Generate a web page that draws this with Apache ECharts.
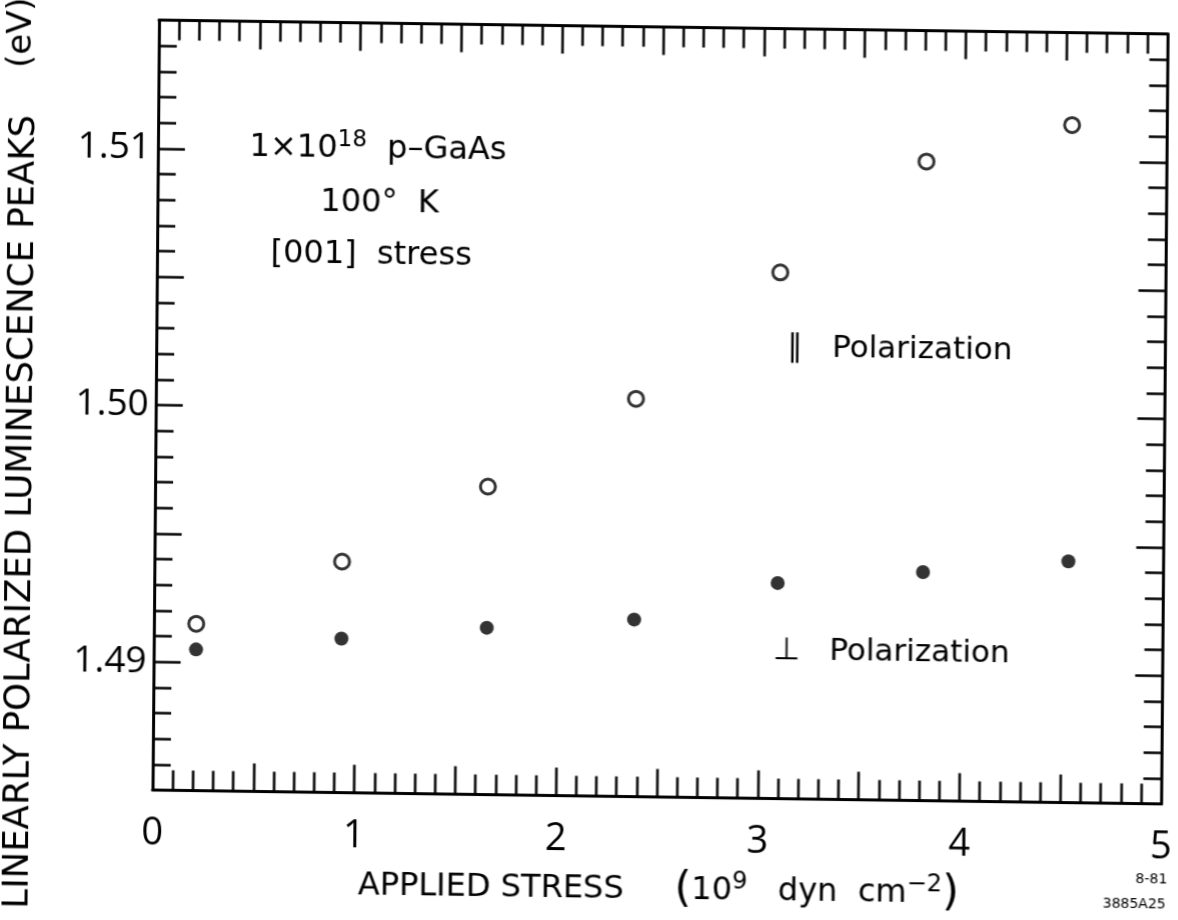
<!DOCTYPE html>
<html>
<head>
<meta charset="utf-8">
<script src="https://cdn.jsdelivr.net/npm/echarts@6/dist/echarts.min.js"></script>
<style>
  html, body { margin: 0; padding: 0; background: #fff; overflow: hidden; }
  #chart {
    width: 1178px; height: 920px;
    /* the plotted sheet sits slightly skewed on the page */
    transform-origin: 0 0;
    transform: matrix(1.0005, 0.01378, -0.00844, 1, 3.15, -9.65);
  }
</style>
</head>
<body>
<div id="chart"></div>
<script>
// Applied [001] stress, 10^9 dyn cm^-2
const stress = [0.21, 0.93, 1.65, 2.38, 3.09, 3.81, 4.53];
// Luminescence peak energies, eV
const parallelPeaks = [1.4915, 1.4940, 1.4970, 1.5005, 1.5055, 1.5099, 1.5114];
const perpendicularPeaks = [1.4905, 1.4910, 1.4915, 1.4919, 1.4934, 1.4939, 1.4944];
// Labelled tick values
const xTickLabels = [0, 1, 2, 3, 4, 5];
const yTickLabels = [1.49, 1.50, 1.51];

const NUM_FONT = '"Open Sans", "DejaVu Sans", sans-serif';
const FONT = '"DejaVu Sans", "Open Sans", sans-serif';
const INK = '#000';

const chart = echarts.init(document.getElementById('chart'), null, { renderer: 'canvas' });

function near(v, list) {
  return list.some(t => Math.abs(v - t) < 1e-6);
}

function xAxisDef(position, showLabels) {
  return {
    type: 'value',
    position: position,
    min: 0, max: 5, interval: 0.5,
    axisLine: { show: true, onZero: false, lineStyle: { color: INK, width: 3 } },
    axisTick: { show: true, inside: true, length: 28, lineStyle: { color: INK, width: 2.5 } },
    minorTick: { show: true, splitNumber: 5, length: 20, lineStyle: { color: INK, width: 2.5 } },
    splitLine: { show: false },
    axisLabel: {
      show: showLabels,
      margin: 25,
      color: INK,
      fontFamily: NUM_FONT,
      fontSize: 38,
      formatter: v => near(v, xTickLabels) ? String(Math.round(v)) : ''
    }
  };
}

function yAxisDef(position, showLabels) {
  return {
    type: 'value',
    position: position,
    min: 1.485, max: 1.515, interval: 0.005,
    axisLine: { show: true, onZero: false, lineStyle: { color: INK, width: 3 } },
    axisTick: { show: true, inside: true, length: 27, lineStyle: { color: INK, width: 2.5 } },
    minorTick: { show: true, splitNumber: 5, length: 18, lineStyle: { color: INK, width: 2.5 } },
    splitLine: { show: false },
    axisLabel: {
      show: showLabels,
      margin: 7,
      color: INK,
      fontFamily: NUM_FONT,
      fontSize: 37,
      formatter: v => near(v, yTickLabels) ? v.toFixed(2) : ''
    }
  };
}

function txt(x, y, text, size, extra) {
  return {
    type: 'text', x: x, y: y,
    style: Object.assign({
      text: text, fill: INK, fontFamily: FONT, fontSize: size,
      align: 'center', verticalAlign: 'middle'
    }, extra || {})
  };
}

const supStyle = size => ({ fontSize: size, fontFamily: FONT, fill: INK, padding: [0, 0, Math.round(size * 0.8), 0] });

const option = {
  backgroundColor: '#fff',
  animation: false,
  grid: { left: 156, right: 6, top: 27.5, bottom: 122.5 },
  xAxis: [xAxisDef('bottom', true), xAxisDef('top', false)],
  yAxis: [yAxisDef('left', true), yAxisDef('right', false)],
  series: [
    {
      name: '\u2225 Polarization',
      type: 'scatter',
      xAxisIndex: 0, yAxisIndex: 0,
      symbol: 'circle',
      symbolSize: 15,
      itemStyle: { color: '#fff', borderColor: INK, borderWidth: 3 },
      data: stress.map((s, i) => [s, parallelPeaks[i]])
    },
    {
      name: '\u22A5 Polarization',
      type: 'scatter',
      xAxisIndex: 0, yAxisIndex: 0,
      symbol: 'circle',
      symbolSize: 14,
      itemStyle: { color: INK },
      data: stress.map((s, i) => [s, perpendicularPeaks[i]])
    }
  ],
  graphic: [
    Object.assign(txt(23, 521, 'LINEARLY POLARIZED LUMINESCENCE PEAKS', 35.5), { rotation: Math.PI / 2 }),
    Object.assign(txt(19, 42, '(eV)', 34), { rotation: Math.PI / 2 }),
    txt(362, 891, 'APPLIED STRESS     {p|(}10{sup|9}   dyn  cm{sup|\u22122}{p|)}', 32, {
      align: 'left',
      rich: {
        p: { fontSize: 43, fontFamily: FONT, fill: INK },
        sup: supStyle(24)
      }
    }),
    txt(376, 154, '1\u00D710{sup|18}  p\u2013GaAs', 32, { rich: { sup: supStyle(23) } }),
    txt(378, 208, '100\u00B0  K', 32),
    txt(370, 260, '[001]  stress', 32),
    txt(899, 347, '\u2225   Polarization', 31),
    txt(893, 650, '\u22A5   Polarization', 31),
    txt(1155, 873, '8-81', 14),
    txt(1138, 898, '3885A25', 14)
  ]
};

chart.setOption(option);
</script>
</body>
</html>
